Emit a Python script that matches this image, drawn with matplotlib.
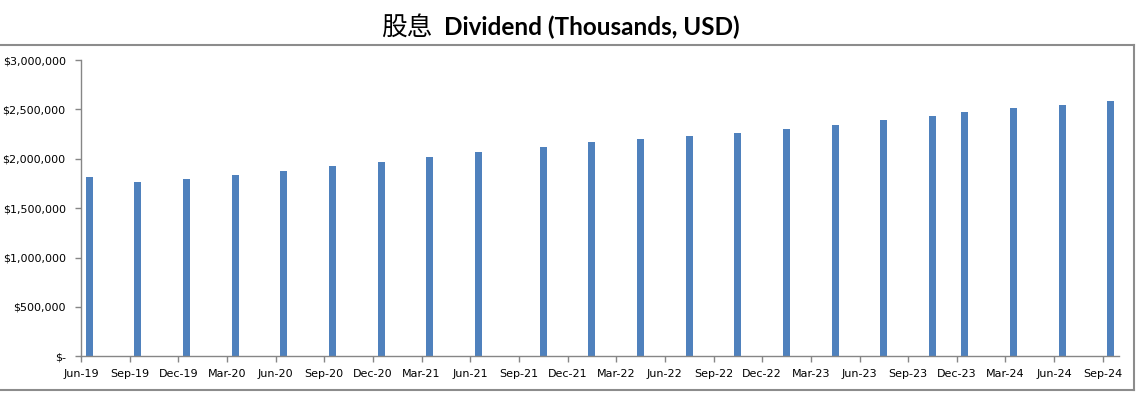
from matplotlib import pyplot as plt
from matplotlib.lines import Line2D
from matplotlib.ticker import FuncFormatter
import pandas as pd

# bar months (Excel date axis, base unit = month)
months = ["Jun-19", "Sep-19", "Dec-19", "Mar-20", "Jun-20", "Sep-20", "Dec-20", "Mar-21",
          "Jun-21", "Oct-21", "Jan-22", "Apr-22", "Jul-22", "Oct-22", "Jan-23", "Apr-23",
          "Jul-23", "Oct-23", "Dec-23", "Mar-24", "Jun-24", "Sep-24"]
dividend = [1817000, 1764000, 1797000, 1838000, 1879000, 1926000, 1967000, 2017000,
            2068000, 2118000, 2169000, 2199000, 2230000, 2260000, 2300000, 2340000,
            2390000, 2430000, 2470000, 2510000, 2540000, 2580000]
# tick labels every 3 months
tick_labels = ["Jun-19", "Sep-19", "Dec-19", "Mar-20", "Jun-20", "Sep-20", "Dec-20", "Mar-21",
               "Jun-21", "Sep-21", "Dec-21", "Mar-22", "Jun-22", "Sep-22", "Dec-22", "Mar-23",
               "Jun-23", "Sep-23", "Dec-23", "Mar-24", "Jun-24", "Sep-24"]
y_ticks = [0, 500000, 1000000, 1500000, 2000000, 2500000, 3000000]


def month_index(labels, start):
    d = pd.to_datetime(labels, format="%b-%y")
    return (d.year - start.year) * 12 + (d.month - start.month)


start = pd.to_datetime("Jun-19", format="%b-%y")
x_bar = month_index(months, start) + 0.5
x_tick = month_index(tick_labels, start)

fig = plt.figure(figsize=(11.39, 3.99), dpi=100)
ax = fig.add_axes([81 / 1139, 1 - 356.3 / 399, (1119 - 81) / 1139, (356.3 - 60) / 399])

ax.bar(x_bar, dividend, width=0.43, color="#4F81BD")

ax.set_xlim(0, 64)
ax.set_ylim(0, 3000000)
ax.set_xticks(x_tick)
ax.set_xticklabels(tick_labels)
ax.set_yticks(y_ticks)
ax.yaxis.set_major_formatter(FuncFormatter(lambda v, p: "$-" if v == 0 else "${:,.0f}".format(v)))

grey = "#868686"
for s in ["top", "right"]:
    ax.spines[s].set_visible(False)
for s in ["left", "bottom"]:
    ax.spines[s].set_color(grey)
    ax.spines[s].set_linewidth(1.0)
ax.tick_params(axis="both", direction="out", length=4, width=1.0, color=grey,
               labelsize=8, labelcolor="black")
ax.tick_params(axis="y", pad=7)
ax.tick_params(axis="x", pad=5)

# chart frame
fc = "#8c8c8c"
y_top = 1 - 45 / 399
y_bot = 1 - 390 / 399
x_r = 1134 / 1139
fig.add_artist(Line2D([0, x_r], [y_top, y_top], color=fc, lw=1.5, transform=fig.transFigure))
fig.add_artist(Line2D([0, x_r], [y_bot, y_bot], color=fc, lw=1.5, transform=fig.transFigure))
fig.add_artist(Line2D([x_r, x_r], [y_bot, y_top], color=fc, lw=1.5, transform=fig.transFigure))

# title: Chinese regular + English bold
fig.text(381 / 1139, 1 - 35 / 399, "股息", fontsize=18.5, family=["Noto Sans CJK SC", "DejaVu Sans"],
         ha="left", va="baseline")
fig.text(444 / 1139, 1 - 35 / 399, "Dividend (Thousands, USD)", fontsize=17.5, fontweight="bold",
         family=["Lato", "DejaVu Sans"], ha="left", va="baseline")

fig.savefig("out.png", dpi=100)
